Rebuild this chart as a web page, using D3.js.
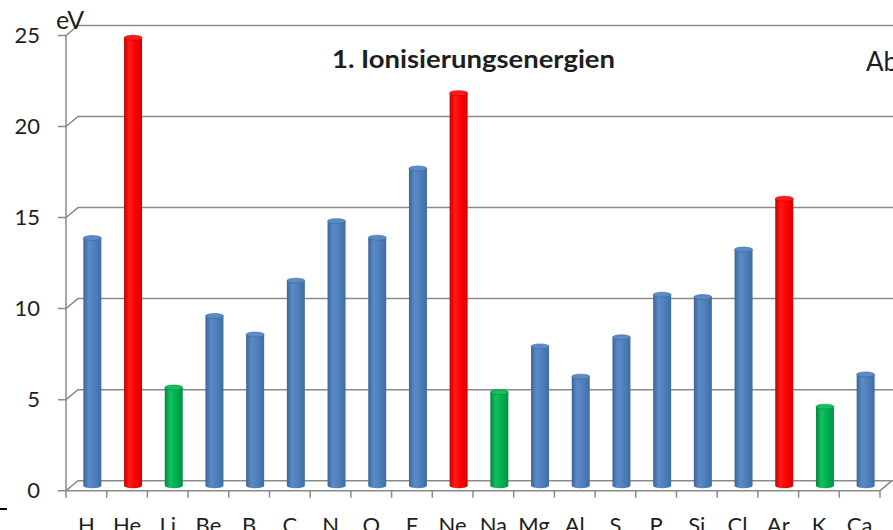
<!DOCTYPE html>
<html>
<head>
<meta charset="utf-8">
<script src="https://cdn.jsdelivr.net/npm/d3@7"></script>
<style>
  body { margin: 0; background: #fff; }
  text { font-family: Lato, "Open Sans", sans-serif; fill: #1e1e1e; }
</style>
</head>
<body>
<script>
var elements = ['H','He','Li','Be','B','C','N','O','F','Ne','Na','Mg','Al','S','P','Si','Cl','Ar','K','Ca']
var energies = [13.6, 24.6, 5.39, 9.32, 8.3, 11.26, 14.53, 13.62, 17.42, 21.56, 5.14, 7.65, 5.99, 8.15, 10.49, 10.36, 12.97, 15.76, 4.34, 6.11]
var groups = ['m','e','a','m','m','m','m','m','m','e','a','m','m','m','m','m','m','e','a','m']
var yTicks = [0, 5, 10, 15, 20, 25]

var colors = {m: ['#3a6599', '#5b8bc6', '#4f81bd', '#3f6da3'], e: ['#c40000', '#ff1a1a', '#ff0000', '#d80000'], a: ['#00863c', '#14c060', '#00b050', '#009443']}

var wdt = 893, hgt = 530
var dx = 12, dy = 10   // 3d depth offset (back wall relative to front)

var svg = d3.select(document.body).append('svg')
  .attr('width', wdt)
  .attr('height', hgt)

var x = d3.scaleBand().domain(elements).range([66, 880]).padding(0)
var y = d3.scaleLinear().domain([0, 25]).range([480.7, 25.5])   // back wall

var defs = svg.append('defs')
Object.keys(colors).forEach(function(k) {
  var c = colors[k]
  var g = defs.append('linearGradient').attr('id', 'g' + k).attr('x1', 0).attr('x2', 1).attr('y1', 0).attr('y2', 0)
  g.append('stop').attr('offset', '0%').attr('stop-color', c[0])
  g.append('stop').attr('offset', '30%').attr('stop-color', c[1])
  g.append('stop').attr('offset', '60%').attr('stop-color', c[2])
  g.append('stop').attr('offset', '100%').attr('stop-color', c[3])
})

var grid = '#8a8a8a'

// gridlines on back wall + diagonals to front axis
svg.selectAll('.grid').data(yTicks).enter().append('polyline')
  .attr('class', 'grid')
  .attr('fill', 'none')
  .attr('stroke', grid)
  .attr('stroke-width', 1.5)
  .attr('points', function(d) {
    var yb = y(d)
    return [[58, yb + dy], [66, yb + dy], [66 + dx, yb], [wdt, yb]].join(' ')
  })

// front vertical axis
svg.append('line')
  .attr('x1', 66).attr('x2', 66)
  .attr('y1', y(25) + dy).attr('y2', y(0) + dy)
  .attr('stroke', grid).attr('stroke-width', 1.5)

// floor front edge and right side
svg.append('polyline')
  .attr('fill', 'none')
  .attr('stroke', grid).attr('stroke-width', 1.5)
  .attr('points', [[66, y(0) + dy], [880, y(0) + dy], [880 + dx, y(0)]].join(' '))

// category ticks
var tickPos = elements.map(function(d) { return x(d) }).concat([x.range()[1]])
svg.selectAll('.xtick').data(tickPos).enter().append('line')
  .attr('class', 'xtick')
  .attr('x1', function(d) { return d }).attr('x2', function(d) { return d })
  .attr('y1', y(0) + dy).attr('y2', y(0) + dy + 7)
  .attr('stroke', grid).attr('stroke-width', 1.5)

// bars (cylinders sitting mid-depth)
var bw = 18
var bars = svg.selectAll('.bar').data(energies).enter().append('g').attr('class', 'bar')

bars.append('rect')
  .attr('x', function(d, i) { return x(elements[i]) + x.bandwidth() / 2 + dx / 2 - bw / 2 })
  .attr('y', function(d) { return y(d) + dy / 2 })
  .attr('width', bw)
  .attr('height', function(d) { return y(0) - y(d) })
  .attr('fill', function(d, i) { return 'url(#g' + groups[i] + ')' })

bars.append('ellipse')
  .attr('cx', function(d, i) { return x(elements[i]) + x.bandwidth() / 2 + dx / 2 })
  .attr('cy', function(d) { return y(0) + dy / 2 })
  .attr('rx', bw / 2).attr('ry', 2.5)
  .attr('fill', function(d, i) { return 'url(#g' + groups[i] + ')' })

bars.append('ellipse')
  .attr('cx', function(d, i) { return x(elements[i]) + x.bandwidth() / 2 + dx / 2 })
  .attr('cy', function(d) { return y(d) + dy / 2 })
  .attr('rx', bw / 2).attr('ry', 2.5)
  .attr('fill', function(d, i) { return colors[groups[i]][1] })
  .attr('stroke', function(d, i) { return colors[groups[i]][0] })
  .attr('stroke-width', 0.6)

// y labels
svg.selectAll('.ylab').data(yTicks).enter().append('text')
  .attr('class', 'ylab')
  .attr('x', 40)
  .attr('y', function(d) { return y(d) + dy })
  .attr('dy', '0.35em')
  .attr('text-anchor', 'end')
  .style('font-size', '22px')
  .text(function(d) { return d })

// x labels (cut by the bottom edge, as in the original)
svg.selectAll('.xlab').data(elements).enter().append('text')
  .attr('class', 'xlab')
  .attr('x', function(d) { return x(d) + x.bandwidth() / 2 })
  .attr('y', 533)
  .attr('text-anchor', 'middle')
  .style('font-size', '22px')
  .text(function(d) { return d })

svg.append('text')
  .attr('x', 56).attr('y', 29)
  .style('font-size', '25px')
  .text('eV')

svg.append('text')
  .attr('x', 332).attr('y', 68)
  .attr('textLength', 283).attr('lengthAdjust', 'spacingAndGlyphs')
  .style('font-size', '24px').style('font-weight', 'bold')
  .text('1. Ionisierungsenergien')

svg.append('text')
  .attr('x', 866).attr('y', 71)
  .style('font-size', '26px')
  .text('Abb')

svg.append('line')
  .attr('x1', 0).attr('x2', 7).attr('y1', 509).attr('y2', 509)
  .attr('stroke', '#000').attr('stroke-width', 2)
</script>
</body>
</html>
